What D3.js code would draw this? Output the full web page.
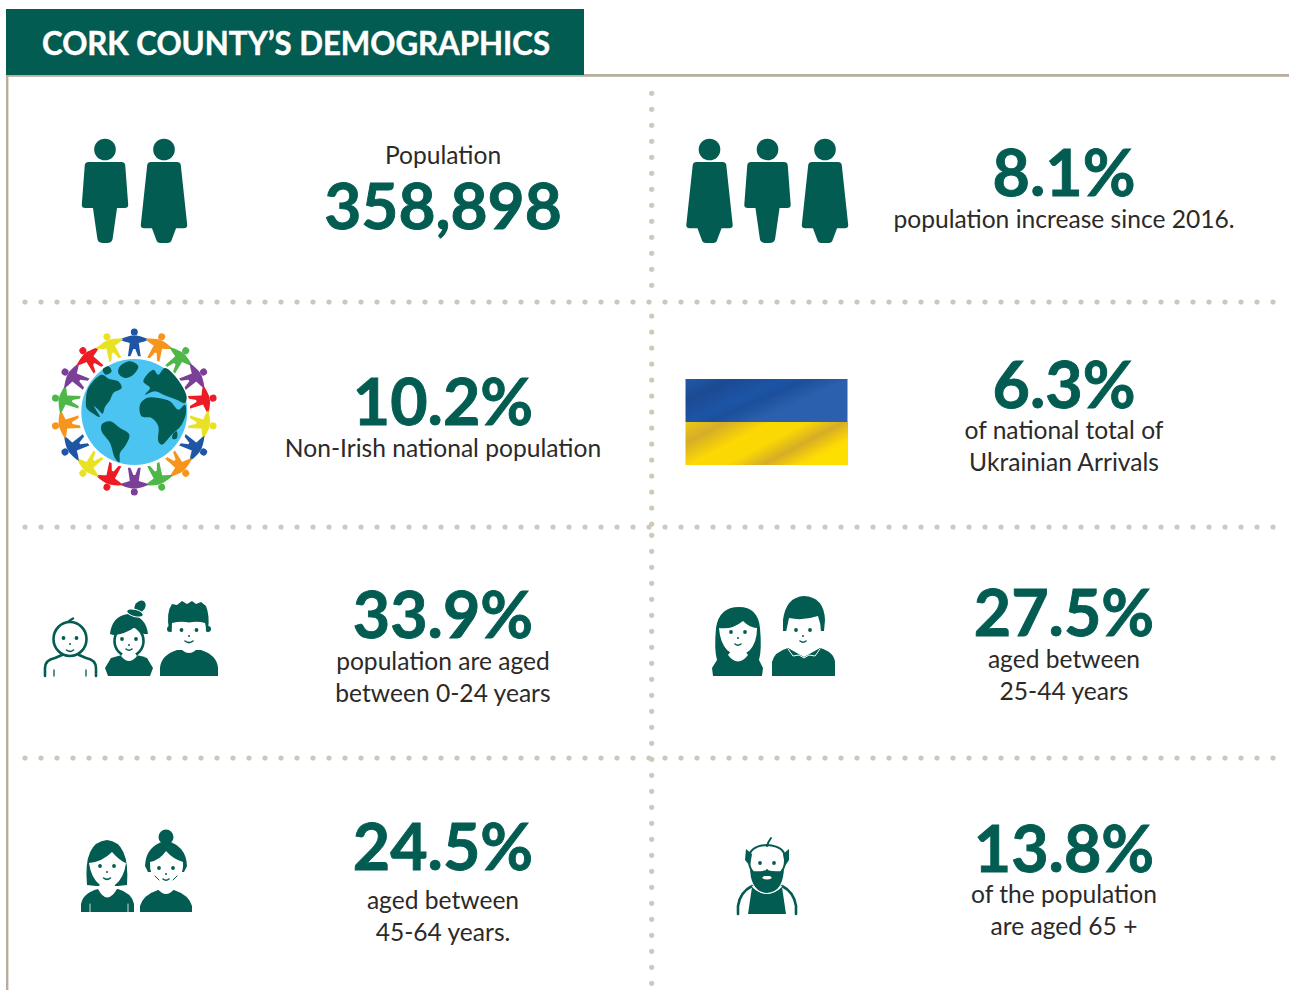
<!DOCTYPE html>
<html><head><meta charset="utf-8">
<script src="https://cdn.jsdelivr.net/npm/d3@7/dist/d3.min.js"></script>
<style>html,body{margin:0;padding:0;background:#fff}svg{display:block}text{font-family:Lato,"Open Sans",sans-serif}</style>
</head><body><div id="c"></div>
<script>
// ---- data ----
const title = "CORK COUNTY’S DEMOGRAPHICS";
const population = 358898;
const percentages = [8.1, 10.2, 6.3, 33.9, 27.5, 24.5, 13.8];
const captions = [
  ["Population"],
  ["population increase since 2016."],
  ["Non-Irish national population"],
  ["of national total of", "Ukrainian Arrivals"],
  ["population are aged", "between 0-24 years"],
  ["aged between", "25-44 years"],
  ["aged between", "45-64 years."],
  ["of the population", "are aged 65 +"]
];
const ringColors = ["#1f55a5","#f7941e","#4db848","#7b3f98","#ed1c24","#e9e223"];

// ---- style / layout ----
const GREEN = "#035c51", TAN = "#b9ad9b", DOT = "#cfc8bd", INK = "#2b2a29";
const headlines = [d3.format(",")(population), ...percentages.map(v => d3.format(".1f")(v) + "%")];
const cellX = d3.scaleOrdinal([0, 1], [443, 1064]);
const headBase = [229, 196, 425, 408, 638, 636, 870, 872];
const capBase = [[164],[228],[457],[439,471],[670,702],[668,700],[909,941],[903,935]];

const svg = d3.select("#c").append("svg").attr("width", 1289).attr("height", 990);

svg.append("rect").attr("x",6).attr("y",74).attr("width",1283).attr("height",2.8).attr("fill",TAN);
svg.append("rect").attr("x",6).attr("y",76).attr("width",2.4).attr("height",914).attr("fill",TAN);
svg.append("rect").attr("x",6).attr("y",9).attr("width",578).attr("height",66).attr("fill",GREEN);
svg.append("text").attr("x",42).attr("y",54.5).attr("fill","#fff").attr("stroke","#fff").attr("stroke-width",.5)
  .attr("font-size",32.5).attr("font-weight",700).attr("textLength",508).attr("lengthAdjust","spacingAndGlyphs").text(title);

// dotted dividers
const dotX = d3.range(25, 1274, 16);
const dotY = [...d3.range(93.3, 301, 16), ...d3.range(316, 525, 16), ...d3.range(535.3, 984, 16)];
[302, 527, 758].forEach(y => svg.append("g").selectAll("circle").data(dotX).join("circle")
  .attr("cx", d => d).attr("cy", y).attr("r", 2.6).attr("fill", DOT));
svg.append("g").selectAll("circle").data(dotY).join("circle")
  .attr("cx", 651.7).attr("cy", d => d).attr("r", 2.6).attr("fill", DOT);

// text
svg.append("g").selectAll("text").data(headlines).join("text")
  .attr("x", (d,i) => cellX(i % 2)).attr("y", (d,i) => headBase[i]).attr("text-anchor","middle")
  .attr("fill",GREEN).attr("stroke",GREEN).attr("stroke-width",.9).attr("font-weight",700)
  .attr("font-size",(d,i) => i ? 64.5 : 64).text(d => d);
captions.forEach((lines,i) => lines.forEach((t,j) => svg.append("text").attr("x",cellX(i % 2)).attr("y",capBase[i][j])
  .attr("text-anchor","middle").attr("fill",INK).attr("font-size",24.6).text(t)));

// standing figures
const man = "M-19,-52 H19 Q23,-52 23.5,-48 L27,1 Q27,5 23,5 H14 L9,42 Q8.5,48 3,48 H-3 Q-8.5,48 -9,42 L-14,5 H-23 Q-27,5 -27,1 L-23.5,-48 Q-23,-52 -19,-52Z";
const woman = "M-15,-52 H15 Q19,-52 19.5,-48 L27,26 Q27,30 23,30 H14 L9,44 Q8,48 4,48 H-4 Q-8,48 -9,44 L-14,30 H-23 Q-27,30 -27,26 L-19.5,-48 Q-19,-52 -15,-52Z";
function fig(cx, path) {
  svg.append("circle").attr("cx",cx).attr("cy",149.5).attr("r",10.8).attr("fill",GREEN);
  svg.append("path").attr("transform",`translate(${cx},204) scale(.86,.81)`).attr("d",path).attr("fill",GREEN);
}
fig(105,man); fig(164,woman); fig(709.5,woman); fig(767.5,man); fig(825,woman);

// globe ring
const R = svg.append("g").attr("transform","translate(134.3,412)");
d3.range(18).forEach(i => {
  const g = R.append("g").attr("transform",`rotate(${i*20})`).attr("fill",ringColors[i % 6]);
  g.append("circle").attr("cy",-80).attr("r",3.5);
  g.append("path").attr("d","M-2.5,-76.5 C-7,-75.5 -11,-74.5 -14.5,-72.5 C-11,-70.5 -7.5,-70 -4.5,-69 L-6.5,-55 L-4.5,-54 L-1,-63 L1,-63 L4.5,-54 L6.5,-55 L4.5,-69 C7.5,-70 11,-70.5 14.5,-72.5 C11,-74.5 7,-75.5 2.5,-76.5Z");
});
R.append("circle").attr("r",56).attr("fill","#fff");
R.append("circle").attr("r",53).attr("fill","#4bc4f2");
const blob = d3.line().curve(d3.curveCatmullRomClosed.alpha(.5));
const land = R.append("g").attr("fill",GREEN).attr("transform","scale(.3333) translate(-313,-307)");
[
 [[168,270],[175,235],[215,195],[238,208],[265,215],[275,235],[250,250],[240,272],[225,292],[218,312],[205,300],[192,290],[210,322],[190,312],[170,295]],
 [[270,170],[300,155],[325,170],[310,195],[285,205],[265,190]],
 [[218,180],[235,170],[245,185],[228,195]],
 [[215,345],[240,335],[270,355],[298,375],[285,410],[270,430],[268,458],[255,445],[240,400],[215,365]],
 [[330,285],[350,265],[385,265],[420,275],[445,300],[465,285],[468,310],[455,345],[425,375],[395,405],[385,395],[385,350],[365,325],[335,320]],
 [[340,215],[370,180],[385,195],[405,175],[440,205],[470,260],[465,280],[440,270],[400,255],[375,245],[345,255],[360,235]],
 [[428,375],[440,365],[441,385],[428,388]]
].forEach(p => land.append("path").attr("d",blob(p)));

// Ukrainian flag
const defs = svg.append("defs");
const gb = defs.append("linearGradient").attr("id","fb").attr("x1","0").attr("y1","0").attr("x2","1").attr("y2","0.6");
[[0,"#1f5aa8"],[.22,"#1c4a93"],[.45,"#1c55a6"],[.55,"#1b4f9c"],[.75,"#2a60ad"],[1,"#2a60ad"]].forEach(s=>gb.append("stop").attr("offset",s[0]).attr("stop-color",s[1]));
const gy = defs.append("linearGradient").attr("id","fy").attr("x1","0").attr("y1","0").attr("x2","1").attr("y2","0.5");
[[0,"#ecc716"],[.2,"#d5ae28"],[.42,"#fdd803"],[.6,"#fad803"],[.78,"#d6ad26"],[.95,"#fdd805"],[1,"#fde002"]].forEach(s=>gy.append("stop").attr("offset",s[0]).attr("stop-color",s[1]));
svg.append("rect").attr("x",685.5).attr("y",379).attr("width",162).attr("height",43).attr("fill","url(#fb)");
svg.append("rect").attr("x",685.5).attr("y",422).attr("width",162.5).attr("height",43).attr("fill","url(#fy)");

// cartoon people
const P = svg.append("g");
const fill = (g,d,c=GREEN) => g.append("path").attr("d",d).attr("fill",c);
const line = (g,d,w=1.6,c=GREEN) => g.append("path").attr("d",d).attr("fill","none").attr("stroke",c).attr("stroke-width",w).attr("stroke-linecap","round");
function eyes(g,cx,cy,dx,r){ [-1,1].forEach(s => g.append("circle").attr("cx",cx+s*dx).attr("cy",cy).attr("r",r).attr("fill",GREEN)); }
function nose(g,cx,cy){ g.append("circle").attr("cx",cx).attr("cy",cy).attr("r",1).attr("fill",GREEN); }
function smile(g,cx,cy,w){ line(g,`M${cx-w},${cy} Q${cx},${cy+w*.8} ${cx+w},${cy}`); }

{ // baby
  const g = P.append("g");
  line(g,"M45,676 V668 Q45,660 55,658 L62,655 M79,655 L86,658 Q96,660 96,668 V676",2.6);
  line(g,"M54,676 V670 M86,676 V670",1.3);
  g.append("ellipse").attr("cx",70).attr("cy",639).attr("rx",16.5).attr("ry",17).attr("fill","#fff").attr("stroke",GREEN).attr("stroke-width",2.6);
  line(g,"M68,622 Q70,620 73,618.5",2.4);
  eyes(g,70,638,6.5,1.9); nose(g,70,644); smile(g,70,650,3.5);
}
{ // girl
  const g = P.append("g");
  fill(g,"M105,668 L111,658 Q118,656 122,655 H136 Q142,656 147,658 L153,668 L150,676 H108Z");
  g.append("ellipse").attr("cx",129).attr("cy",641).attr("rx",14.5).attr("ry",15.5).attr("fill","#fff").attr("stroke",GREEN).attr("stroke-width",2.6);
  fill(g,"M110,634 Q112,616 128,614 Q146,616 148,634 L144,634 Q137,631 135,627 Q126,634 113,635Z");
  g.append("ellipse").attr("cx",140).attr("cy",606.5).attr("rx",6.5).attr("ry",5).attr("fill",GREEN).attr("transform","rotate(-50 140 606.5)");
  g.append("ellipse").attr("cx",135).attr("cy",613).attr("rx",8.5).attr("ry",3.6).attr("fill",GREEN).attr("stroke","#fff").attr("stroke-width",1).attr("transform","rotate(15 135 613)");
  fill(g,"M121,656 Q129,666 137,656 L135,653 H123Z","#fff");
  eyes(g,129,639,7,1.9); nose(g,129,645); smile(g,129,649,3);
}
{ // boy
  const g = P.append("g");
  fill(g,"M160,676 V668 Q161,655 177,650 H201 Q217,655 218,668 V676Z");
  fill(g,"M169,630 Q166,612 172,604 L177,605 L182,601 L187,604 L192,601 L196,604 L201,602 L206,606 Q210,616 208,630Z");
  g.append("circle").attr("cx",170).attr("cy",629).attr("r",3).attr("fill",GREEN);
  g.append("circle").attr("cx",208).attr("cy",629).attr("r",3).attr("fill",GREEN);
  fill(g,"M172,623 Q181,621 189,622.5 Q198,621 205,623 Q207,630 205,638 Q200,648 189,650 Q178,648 173,638 Q171,630 172,623Z","#fff");
  fill(g,"M180,648 Q189,658 198,648 L196,646 H182Z","#fff");
  eyes(g,189,630,7.5,1.9); nose(g,189,636); smile(g,189,641,4);
}
{ // young woman
  const g = P.append("g");
  fill(g,"M713,676 L712,668 L717,660 Q714,650 716,628 Q719,607 739,607 Q758,607 760,628 Q762,650 759,660 L763,668 L762,676Z");
  fill(g,"M719,628 Q732,630 743,621 Q750,628 757,628 Q757,642 750,650 Q739,660 727,650 Q720,642 719,628Z","#fff");
  fill(g,"M728,655 Q738,668 748,655 L745,651 H731Z","#fff");
  eyes(g,738,632,7,1.9); nose(g,738,638); smile(g,738,644,3);
}
{ // young man
  const g = P.append("g");
  fill(g,"M772,676 V662 Q774,652 788,648 L804,657 L820,648 Q834,652 835,662 V676Z");
  line(g,"M788,649 L793,656 L799,655 L804,658 L809,655 L815,656 L820,649",1,"#fff");
  fill(g,"M783,620 Q786,597 804,596 Q824,597 825,620 L824,631 L783,631Z");
  fill(g,"M789,618 Q803,621 818,616 Q821,624 821,632 Q816,645 803,651 Q791,645 786,632Z","#fff");
  eyes(g,803,630,7,1.9); nose(g,803,636); smile(g,803,641,3);
}
{ // middle-aged woman
  const g = P.append("g");
  fill(g,"M81,912 V904 Q83,893 98,889 H118 Q132,893 134,904 V912Z");
  fill(g,"M87,885 Q83,842 107,840 Q130,842 127,885 L118,886 H96Z");
  fill(g,"M89,863 Q102,862 112,852 Q120,861 126,863 Q124,878 115,885 Q107,888 100,885 Q91,878 89,863Z","#fff");
  fill(g,"M98,889 Q107,906 117,889 L114,884 H100Z","#fff");
  line(g,"M90,912 V904 M128,912 V904",.8,"#fff");
  eyes(g,107,866,7,1.9); nose(g,107,872); smile(g,107,878,3.4);
}
{ // older woman
  const g = P.append("g");
  g.append("circle").attr("cx",166).attr("cy",837).attr("r",7.5).attr("fill",GREEN);
  fill(g,"M140,912 V906 Q143,895 158,890 H174 Q189,895 192,906 V912Z");
  fill(g,"M145,866 Q146,845 166,841 Q186,845 187,866 L184,872 H148Z");
  fill(g,"M150,862 Q160,860 166,851 Q173,859 183,862 Q184,877 172,885 Q166,888 160,885 Q149,877 150,862Z","#fff");
  fill(g,"M157,888 Q166,900 175,888 V884 H157Z","#fff");
  eyes(g,166,868,7,1.9); nose(g,166,874); smile(g,166,879,3);
  line(g,"M155,876 L159,880 M177,876 L173,880",1);
}
{ // old man
  const g = P.append("g");
  line(g,"M738,914 V906 Q740,892 752,886 M796,914 V906 Q794,892 782,886",2.6);
  fill(g,"M752,887 Q767,901 782,887 L786,914 H748Z");
  line(g,"M752,886 Q767,901 782,886",1,"#fff");
  fill(g,"M750,866 Q750,892 767,893 Q784,892 784,866 L778,872 H756Z");
  g.append("path").attr("d","M749,860 Q748,846 767,845 Q786,846 785,860 Q785,868 781,872 Q774,873 767,871 Q760,873 753,872 Q749,868 749,860Z").attr("fill","#fff").attr("stroke",GREEN).attr("stroke-width",2);
  fill(g,"M746,849 L752,854 L750,866 L745,860 Z M789,849 L783,854 L785,866 L789,860 Z");
  line(g,"M767,846 Q768,842 771,838",2);
  fill(g,"M762,878 Q767,881 772,878 L770,876 H764Z","#fff");
  eyes(g,767,863,7,1.9); nose(g,767,870);
}
</script></body></html>
